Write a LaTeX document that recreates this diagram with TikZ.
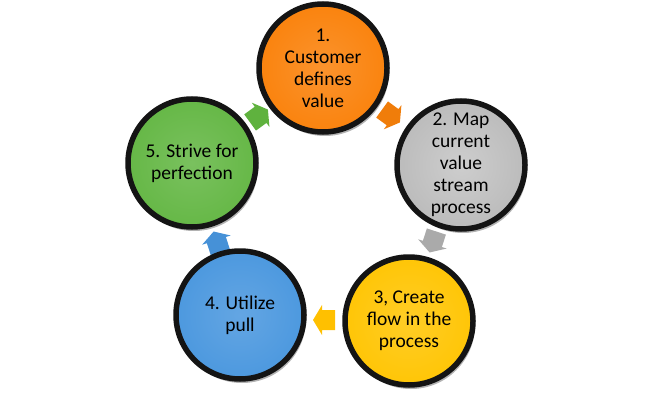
\documentclass[tikz,border=0pt]{standalone}
\usepackage{fontspec}
\setmainfont{Carlito}
\usetikzlibrary{shadows}
\definecolor{corange}{RGB}{250,128,8}
\definecolor{cgrey}{RGB}{184,184,184}
\definecolor{cyellow}{RGB}{255,196,0}
\definecolor{cblue}{RGB}{72,150,222}
\definecolor{cgreen}{RGB}{98,182,66}
\definecolor{aorange}{RGB}{240,125,10}
\definecolor{agrey}{RGB}{170,170,170}
\definecolor{ayellow}{RGB}{255,192,0}
\definecolor{ablue}{RGB}{70,145,215}
\definecolor{agreen}{RGB}{95,178,62}
\pgfdeclareradialshading{shorange}{\pgfpoint{0bp}{0bp}}{color(0bp)=(corange!85!white); color(30bp)=(corange); color(50bp)=(corange!82!black)}
\pgfdeclareradialshading{shgrey}{\pgfpoint{0bp}{0bp}}{color(0bp)=(cgrey!70!white); color(30bp)=(cgrey); color(50bp)=(cgrey!80!black)}
\pgfdeclareradialshading{shyellow}{\pgfpoint{0bp}{0bp}}{color(0bp)=(cyellow!85!white); color(30bp)=(cyellow); color(50bp)=(cyellow!85!black)}
\pgfdeclareradialshading{shblue}{\pgfpoint{0bp}{0bp}}{color(0bp)=(cblue!85!white); color(30bp)=(cblue); color(50bp)=(cblue!82!black)}
\pgfdeclareradialshading{shgreen}{\pgfpoint{0bp}{0bp}}{color(0bp)=(cgreen!85!white); color(30bp)=(cgreen); color(50bp)=(cgreen!82!black)}
\begin{document}
\begin{tikzpicture}[x=1pt,y=-1pt,
  stepcircle/.style={circle, minimum size=128pt, inner sep=0pt, shade, draw=black!92, line width=5.5pt,
    align=center, font=\fontsize{19.5}{22}\selectfont, text=black,
    drop shadow={shadow xshift=2pt, shadow yshift=-4pt, opacity=0.3, fill=black}},
  flowarrow/.pic={\fill[pic actions] (-11,-10) -- (2,-10) -- (2,-15) -- (11,0) -- (2,15) -- (2,10) -- (-11,10) -- cycle;}
]
\useasboundingbox (0,0) rectangle (652,398);
% arrows
\pic[rotate=-36, fill=aorange] at (391,116) {flowarrow};
\pic[rotate=-108, fill=agrey] at (433,242) {flowarrow};
\pic[rotate=180, fill=ayellow] at (324,320) {flowarrow};
\pic[rotate=108, fill=ablue] at (217,242) {flowarrow};
\pic[rotate=36, fill=agreen] at (259,116) {flowarrow};
% circles
\node[stepcircle, shading=shorange] (c1) at (323,68) {1.\\Customer\\defines\\value};
\node[stepcircle, shading=shgrey] (c2) at (461,165) {2. Map\\current\\value\\stream\\process};
\node[stepcircle, shading=shyellow] (c3) at (409,321) {3, Create\\flow in the\\process};
\node[stepcircle, shading=shblue] (c4) at (240,315) {4. Utilize\\pull};
\node[stepcircle, shading=shgreen] (c5) at (192,163) {5. Strive for\\perfection};
\end{tikzpicture}
\end{document}
